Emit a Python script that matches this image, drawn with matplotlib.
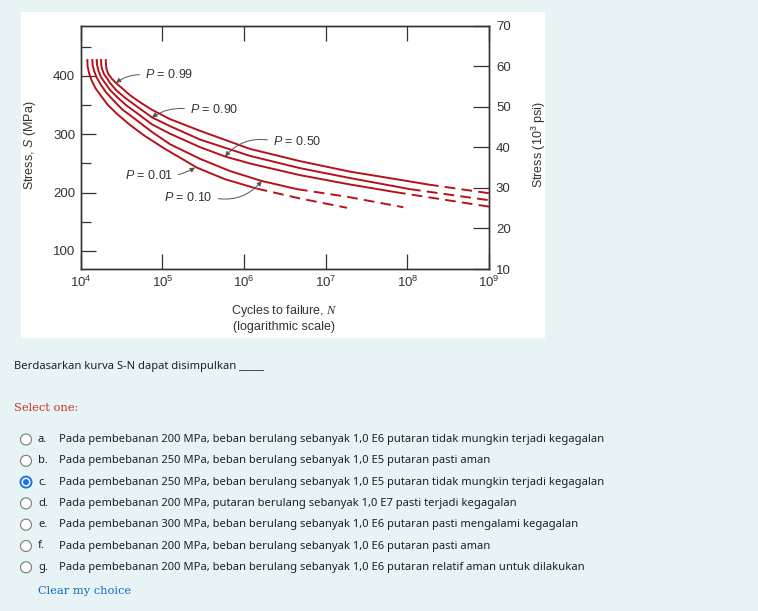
import numpy as np
import matplotlib
matplotlib.use("Agg")
import matplotlib.pyplot as plt
from matplotlib.patches import Rectangle, Circle
from matplotlib.ticker import NullLocator

plt.rcParams['font.family'] = 'Liberation Sans'
plt.rcParams['mathtext.fontset'] = 'custom'
plt.rcParams['mathtext.rm'] = 'Liberation Sans'
plt.rcParams['mathtext.it'] = 'Liberation Sans:italic'
plt.rcParams['mathtext.cal'] = 'Liberation Serif:italic'

# S-N probability curves: log10(cycles) and stress (MPa)
probs = ["0.99", "0.90", "0.50", "0.10", "0.01"]
logN_99 = [4.306, 4.310, 4.316, 4.340, 4.377, 4.432, 4.506, 4.604, 4.726, 4.873, 5.094, 5.461, 6.073, 6.686, 7.298, 7.910, 8.253, 9.0]
S_99 = [429, 419, 412, 403, 396, 388, 379, 367, 355, 342, 326, 306, 275, 254, 236, 222, 214, 199]
logN_90 = [4.249, 4.252, 4.261, 4.286, 4.323, 4.359, 4.432, 4.530, 4.665, 4.873, 5.094, 5.461, 6.073, 6.686, 7.298, 8.033, 9.0]
S_90 = [429, 419, 412, 403, 396, 388, 376, 364, 350, 329, 314, 291, 263, 242, 225, 206, 187]
logN_50 = [4.196, 4.200, 4.218, 4.249, 4.298, 4.359, 4.445, 4.555, 4.702, 4.873, 5.094, 5.461, 5.767, 6.073, 6.686, 7.298, 7.849, 9.0]
S_50 = [429, 419, 409, 398, 388, 376, 364, 350, 335, 317, 301, 278, 262, 250, 230, 214, 201, 176]
logN_10 = [4.142, 4.146, 4.163, 4.193, 4.242, 4.310, 4.396, 4.506, 4.677, 4.873, 5.094, 5.461, 5.828, 6.217, 6.649, 7.261, 7.951]
S_10 = [429, 419, 409, 398, 386, 372, 359, 343, 325, 304, 283, 258, 237, 220, 206, 193, 175]
logN_01 = [4.081, 4.084, 4.102, 4.132, 4.181, 4.249, 4.334, 4.445, 4.604, 4.787, 5.032, 5.253, 5.421, 5.767, 6.155, 6.686, 7.261]
S_01 = [429, 417, 405, 393, 379, 366, 350, 335, 316, 297, 275, 257, 243, 223, 207, 190, 174]
dash_start = [16, 15, 16, 14, 14]   # point index where each curve turns dashed

# label text position and arrow tip (log10 N, MPa), same order as probs
label_pos = [(4.787, 401.7), (5.338, 342.9), (6.355, 288.5), (5.616, 191.3), (5.130, 229.0)]
label_tip = [(4.432, 388), (4.873, 329), (5.767, 262), (6.217, 220), (5.40, 243)]
label_side = ["left", "left", "left", "right", "right"]
label_rad = [0.2, 0.2, 0.3, 0.3, 0.1]

x_ticks = [1e4, 1e5, 1e6, 1e7, 1e8, 1e9]
x_ticklabels = [r'$\mathregular{10^{%d}}$' % e for e in range(4, 10)]
mpa_ticks = [100, 200, 300, 400]
mpa_minor = [150, 250, 350, 450]
ksi_ticks = [10, 20, 30, 40, 50, 60, 70]

question = "Berdasarkan kurva S-N dapat disimpulkan _____"
letters = ["a.", "b.", "c.", "d.", "e.", "f.", "g."]
options = [
    "Pada pembebanan 200 MPa, beban berulang sebanyak 1,0 E6 putaran tidak mungkin terjadi kegagalan",
    "Pada pembebanan 250 MPa, beban berulang sebanyak 1,0 E5 putaran pasti aman",
    "Pada pembebanan 250 MPa, beban berulang sebanyak 1,0 E5 putaran tidak mungkin terjadi kegagalan",
    "Pada pembebanan 200 MPa, putaran berulang sebanyak 1,0 E7 pasti terjadi kegagalan",
    "Pada pembebanan 300 MPa, beban berulang sebanyak 1,0 E6 putaran pasti mengalami kegagalan",
    "Pada pembebanan 200 MPa, beban berulang sebanyak 1,0 E6 putaran pasti aman",
    "Pada pembebanan 200 MPa, beban berulang sebanyak 1,0 E6 putaran relatif aman untuk dilakukan",
]
selected = 2

W, H = 758, 611
fig = plt.figure(figsize=(W / 100, H / 100), dpi=100)
fig.patch.set_facecolor('#e7f3f5')

# page layer in pixel units
page = fig.add_axes([0, 0, 1, 1])
page.set_xlim(0, W)
page.set_ylim(H, 0)
page.axis('off')
page.add_patch(Rectangle((21, 12), 524, 326, facecolor='white', edgecolor='none'))

ink = '#333333'
red = '#b5121b'
ax = fig.add_axes([80.7 / W, 1 - 269 / H, 408.3 / W, 243.3 / H])
ax.set_xscale('log')
ax.set_xlim(1e4, 1e9)
ax.set_ylim(69.1, 486.2)

curves = [(logN_99, S_99), (logN_90, S_90), (logN_50, S_50), (logN_10, S_10), (logN_01, S_01)]
for (lg, s), k in zip(curves, dash_start):
    n = 10 ** np.array(lg)
    s = np.array(s)
    ax.plot(n[:k + 1], s[:k + 1], color=red, lw=1.4, solid_capstyle='butt', solid_joinstyle='round')
    ax.plot(n[k:], s[k:], color=red, lw=1.4, ls=(0, (5.5, 3.2)), dash_capstyle='butt')

for p, (tx, ty), (px, py), side, rad in zip(probs, label_pos, label_tip, label_side, label_rad):
    ax.annotate("$P$ = " + p, xy=(10 ** px, py), xytext=(10 ** tx, ty),
                ha=side, va='center', fontsize=9, color=ink,
                arrowprops=dict(arrowstyle='-|>', mutation_scale=7, color='#555555', lw=0.7,
                                connectionstyle='arc3,rad=%s' % rad,
                                relpos=(0 if side == 'left' else 1, 0.5),
                                shrinkA=2, shrinkB=0))

ax.set_xticks(x_ticks)
ax.set_xticklabels(x_ticklabels)
ax.xaxis.set_minor_locator(NullLocator())
ax.set_yticks(mpa_ticks)
ax.set_yticks(mpa_minor, minor=True)
ax.tick_params(axis='x', direction='in', length=11, width=0.9, top=True, color=ink,
               labelcolor=ink, labelsize=9.5, pad=4)
ax.tick_params(axis='y', which='major', direction='in', length=11, width=0.9, color=ink,
               labelcolor=ink, labelsize=9.5, pad=4)
ax.tick_params(axis='y', which='minor', direction='in', length=7, width=0.9, color=ink)
for sp in ax.spines.values():
    sp.set_color(ink)
    sp.set_linewidth(1.0)

ax2 = ax.twinx()
ax2.set_ylim(10, 70)
ax2.set_yticks(ksi_ticks)
ax2.tick_params(axis='y', direction='in', length=11.5, width=0.9, color=ink,
                labelcolor=ink, labelsize=9.5, pad=5)
for sp in ax2.spines.values():
    sp.set_color(ink)
    sp.set_linewidth(1.0)

ax.set_ylabel("Stress, $S$ (MPa)", fontsize=9, color=ink)
ax.yaxis.set_label_coords((38 - 80.7) / 408.3, 0.51)
ax2.set_ylabel(r"Stress ($\mathregular{10^3}$ psi)", fontsize=9, color=ink)
ax2.yaxis.set_label_coords((530 - 80.7) / 408.3, 0.51)
ax.set_xlabel("Cycles to failure, $\\mathcal{N}$\n(logarithmic scale)", fontsize=9, color=ink,
              linespacing=1.2)
ax.xaxis.set_label_coords((284 - 80.7) / 408.3, (269 - 303) / 243.3)

# quiz text below the figure
body = '#1d2125'
sans = 'Noto Sans'
fs = 8.05
page.text(14, 367, question, fontsize=fs, family=sans, color=body, va='center')
page.text(14, 408, "Select one:", fontsize=8.2, family='DejaVu Serif', color='#ca3120', va='center')
for i, (let, opt) in enumerate(zip(letters, options)):
    y = 439.5 + i * 21.3
    if i == selected:
        page.add_patch(Circle((26, y), 5.5, facecolor='white', edgecolor='#1a73e8', lw=1.4))
        page.add_patch(Circle((26, y), 3.0, facecolor='#1a73e8', edgecolor='none'))
    else:
        page.add_patch(Circle((26, y), 5.5, facecolor='white', edgecolor='#7a7a7a', lw=0.8))
    page.text(38, y, let, fontsize=fs, family=sans, color=body, va='center')
    page.text(59, y, opt, fontsize=fs, family=sans, color=body, va='center')
page.text(38, 591, "Clear my choice", fontsize=8.2, family='DejaVu Serif', color='#0f6cbf', va='center')

fig.savefig("out.png", dpi=100, facecolor=fig.get_facecolor())
